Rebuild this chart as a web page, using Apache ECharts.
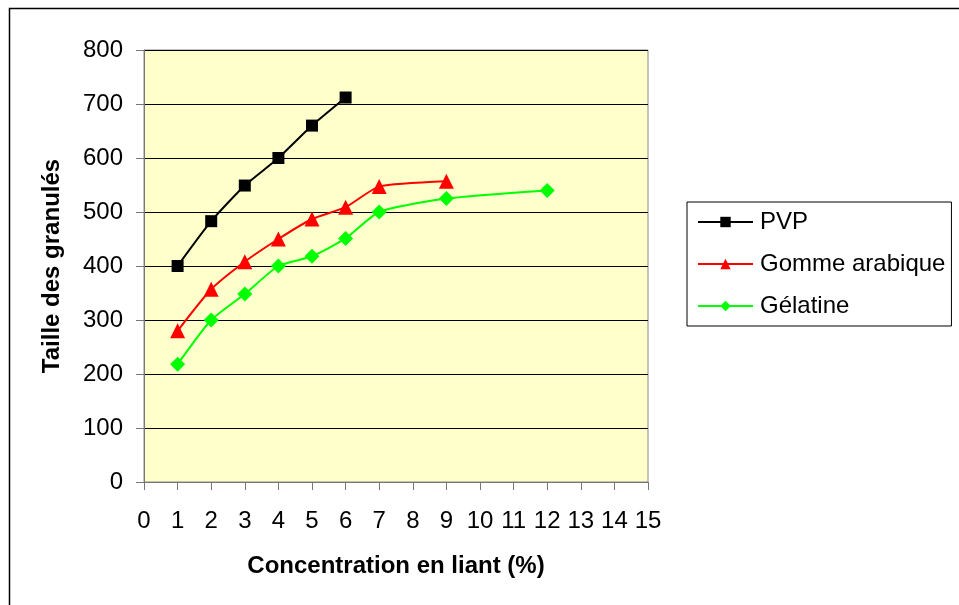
<!DOCTYPE html>
<html>
<head>
<meta charset="utf-8">
<script src="https://cdn.jsdelivr.net/npm/echarts@6/dist/echarts.min.js"></script>
<style>
html,body{margin:0;padding:0;background:#fff;}
#chart{width:959px;height:605px;}
</style>
</head>
<body>
<div id="chart"></div>
<script>
// Concentration en liant (%) and granule size for each binder
const pvpX = [1, 2, 3, 4, 5, 6];
const pvpY = [400, 483, 549, 600, 660, 712];
const gommeX = [1, 2, 3, 4, 5, 6, 7, 9];
const gommeY = [280, 357, 408, 450, 487, 509, 547, 557];
const gelatineX = [1, 2, 3, 4, 5, 6, 7, 9, 12];
const gelatineY = [218, 300, 348, 400, 418, 451, 500, 525, 540];

const pairs = (xs, ys) => xs.map((x, i) => [x, ys[i]]);
const font = 'Liberation Sans, Arial, sans-serif';

const chart = echarts.init(document.getElementById('chart'), null, {renderer: 'canvas'});
chart.setOption({
  animation: false,
  backgroundColor: '#ffffff',
  graphic: [{
    type: 'rect',
    shape: {x: 9.5, y: 8.5, width: 960, height: 610},
    style: {fill: 'none', stroke: '#000', lineWidth: 1.5},
    silent: true
  }],
  grid: {
    left: 144, top: 50, right: 311, bottom: 123,
    show: true, backgroundColor: '#ffffcc', borderColor: '#888', borderWidth: 1
  },
  legend: {
    orient: 'vertical',
    left: 687, top: 202,
    padding: [8, 6, 8, 10],
    itemGap: 18,
    itemWidth: 55,
    itemHeight: 13,
    borderColor: '#000', borderWidth: 1,
    textStyle: {fontFamily: font, fontSize: 24, lineHeight: 24, color: '#000', padding: [0, 0, 0, 2]},
    data: ['PVP', 'Gomme arabique', 'Gélatine']
  },
  xAxis: {
    type: 'value', min: 0, max: 15, interval: 1,
    name: 'Concentration en liant (%)',
    nameLocation: 'middle', nameGap: 72,
    nameTextStyle: {fontFamily: font, fontSize: 24, fontWeight: 'bold', color: '#000'},
    axisLine: {show: true, lineStyle: {color: '#777', width: 1}},
    axisTick: {show: true, length: 8, lineStyle: {color: '#777'}},
    axisLabel: {fontFamily: font, fontSize: 24, color: '#000', margin: 27},
    splitLine: {show: false}
  },
  yAxis: {
    type: 'value', min: 0, max: 800, interval: 100,
    name: 'Taille des granulés',
    nameLocation: 'middle', nameGap: 80,
    nameTextStyle: {fontFamily: font, fontSize: 24, fontWeight: 'bold', color: '#000'},
    axisLine: {show: true, lineStyle: {color: '#777', width: 1}},
    axisTick: {show: true, length: 8, lineStyle: {color: '#777'}},
    axisLabel: {fontFamily: font, fontSize: 24, color: '#000', margin: 21},
    splitLine: {show: true, lineStyle: {color: '#000', width: 1}}
  },
  series: [
    {
      name: 'PVP', type: 'line', data: pairs(pvpX, pvpY), smooth: 0.2,
      symbol: 'rect', symbolSize: 12,
      lineStyle: {color: '#000', width: 2}, itemStyle: {color: '#000'}
    },
    {
      name: 'Gomme arabique', type: 'line', data: pairs(gommeX, gommeY), smooth: 0.2,
      symbol: 'triangle', symbolSize: 15,
      lineStyle: {color: '#ff0000', width: 2}, itemStyle: {color: '#ff0000'}
    },
    {
      name: 'Gélatine', type: 'line', data: pairs(gelatineX, gelatineY), smooth: 0.2,
      symbol: 'diamond', symbolSize: 15,
      lineStyle: {color: '#00ff00', width: 2}, itemStyle: {color: '#00ff00'}
    }
  ]
});
</script>
</body>
</html>
